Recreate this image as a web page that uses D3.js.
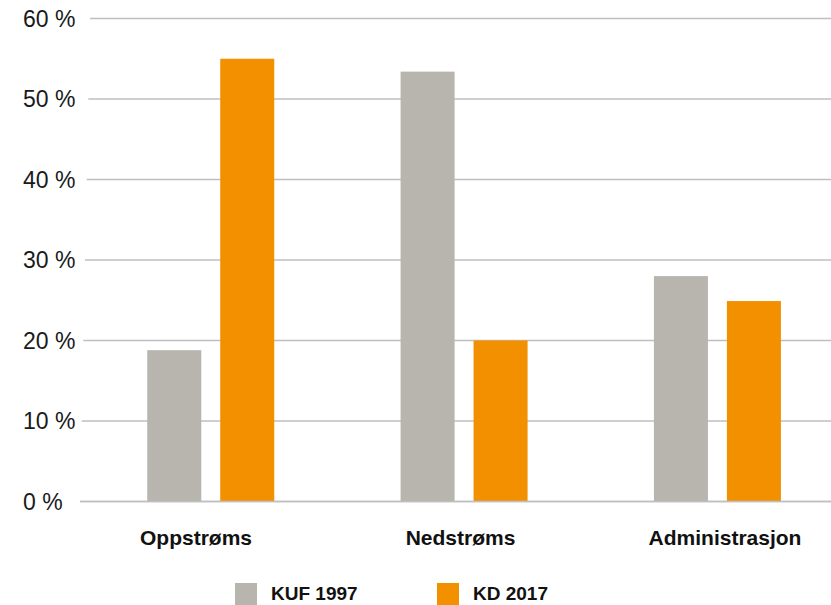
<!DOCTYPE html>
<html>
<head>
<meta charset="utf-8">
<script src="https://cdn.jsdelivr.net/npm/d3@7"></script>
<style>
  body { margin: 0; background: #fff; }
  svg { display: block; font-family: "Liberation Sans", Arial, sans-serif; }
</style>
</head>
<body>
<script>
//-----------------Data----------------

const categories = ["Oppstrøms", "Nedstrøms", "Administrasjon"];
const seriesNames = ["KUF 1997", "KD 2017"];
const kuf1997 = [18.8, 53.4, 28.0];
const kd2017 = [55.0, 20.0, 24.9];
const yTicks = [0, 10, 20, 30, 40, 50, 60];
const colors = ["#b8b4ae", "#f29000"];

//-----------------Main svg----------------

const width = 831;
const height = 605;

const svg = d3.select("body").append("svg").attr("width", width).attr("height", height);

//-----------------Scaling----------------

const yScale = d3.scaleLinear().domain([0, 60]).range([501.5, 18.5]);

const x0 = d3.scaleBand().domain(categories).range([84, 844]);
const x1 = d3.scaleBand().domain(seriesNames).range([63.25, 190.25]).paddingInner(0.26);

// category labels sit a little off the group centres in the original
const labelScale = d3.scalePoint().domain(categories).range([196, 725]);

// grid lines start slightly further right as the value grows
const gridStart = d3.scaleLinear().domain([0, 60]).range([80, 90]);

//-----------------Grid + y labels----------------

const grid = svg.append("g").attr("id", "grid");

grid
  .selectAll("line")
  .data(yTicks)
  .enter()
  .append("line")
  .attr("x1", (d) => gridStart(d))
  .attr("x2", 831)
  .attr("y1", (d) => yScale(d))
  .attr("y2", (d) => yScale(d))
  .style("stroke", "#bfbfbf")
  .style("stroke-width", 1.4);

grid
  .selectAll("text")
  .data(yTicks)
  .enter()
  .append("text")
  .attr("x", 23)
  .attr("y", (d) => yScale(d))
  .attr("dy", "0.36em")
  .text((d) => d + " %")
  .style("font-size", "23px")
  .style("fill", "#1a1a1a");

//-----------------Bars----------------

const rows = categories.map((c, i) => ({ cat: c, values: [kuf1997[i], kd2017[i]] }));

const groups = svg
  .selectAll("g.group")
  .data(rows)
  .enter()
  .append("g")
  .attr("class", "group")
  .attr("transform", (d) => "translate(" + x0(d.cat) + ",0)");

groups
  .selectAll("rect")
  .data((d) => d.values.map((v, j) => ({ name: seriesNames[j], value: v, idx: j })))
  .enter()
  .append("rect")
  .attr("x", (d) => x1(d.name))
  .attr("width", x1.bandwidth())
  .attr("y", (d) => yScale(d.value))
  .attr("height", (d) => yScale(0) - yScale(d.value))
  .style("fill", (d) => colors[d.idx]);

// redraw the baseline over the bars
svg
  .append("line")
  .attr("x1", gridStart(0))
  .attr("x2", 831)
  .attr("y1", yScale(0))
  .attr("y2", yScale(0))
  .style("stroke", "#bfbfbf")
  .style("stroke-width", 1.4);

//-----------------Category labels----------------

svg
  .append("g")
  .attr("id", "x-labels")
  .selectAll("text")
  .data(categories)
  .enter()
  .append("text")
  .attr("x", (d) => labelScale(d))
  .attr("y", 545)
  .text((d) => d)
  .style("text-anchor", "middle")
  .style("font-size", "21px")
  .style("font-weight", "bold")
  .style("fill", "#111");

//-----------------Legend----------------

const legendX = d3.scaleOrdinal().domain(seriesNames).range([235, 437]);

const legend = svg.append("g").attr("id", "legend");

legend
  .selectAll("rect")
  .data(seriesNames)
  .enter()
  .append("rect")
  .attr("x", (d) => legendX(d))
  .attr("y", 583)
  .attr("width", 22)
  .attr("height", 22)
  .style("fill", (d, i) => colors[i]);

legend
  .selectAll("text")
  .data(seriesNames)
  .enter()
  .append("text")
  .attr("x", (d) => legendX(d) + 36)
  .attr("y", 600)
  .text((d) => d)
  .style("font-size", "19px")
  .style("font-weight", "bold")
  .style("fill", "#111");
</script>
</body>
</html>
